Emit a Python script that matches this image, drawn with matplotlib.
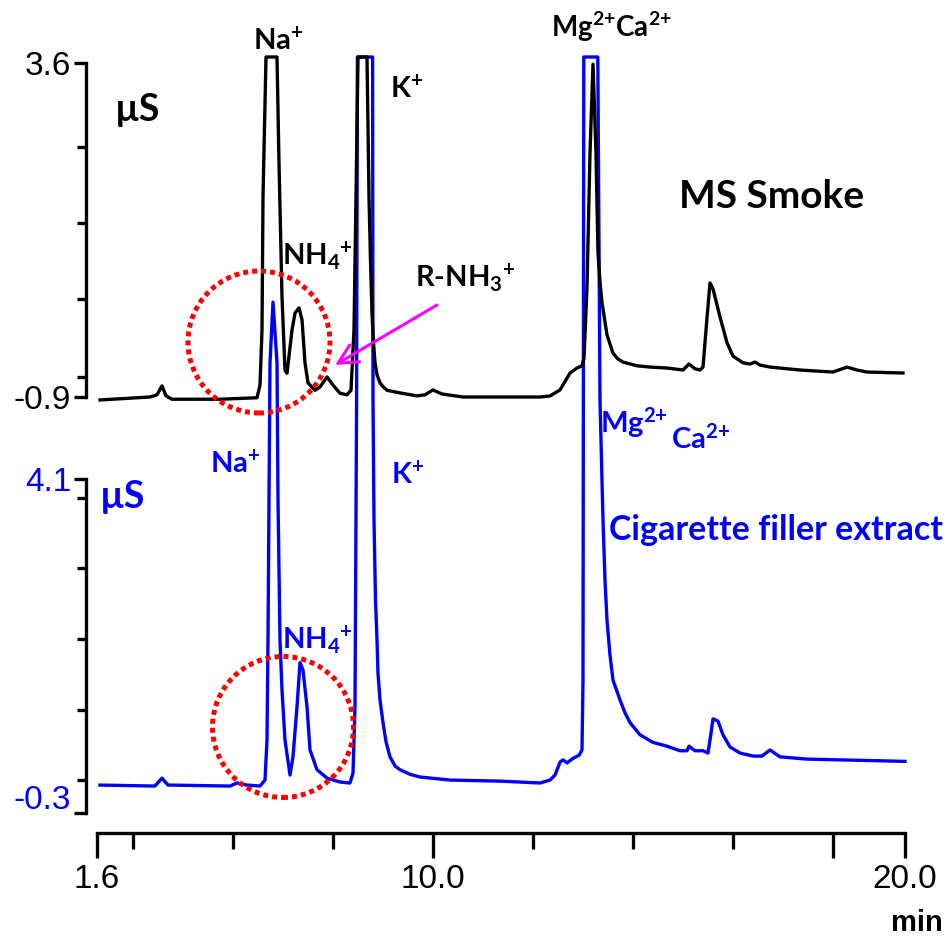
import numpy as np
import matplotlib
matplotlib.use("Agg")
import matplotlib.pyplot as plt
import matplotlib.transforms as mtransforms
from matplotlib import font_manager
from matplotlib.patches import Ellipse, FancyArrowPatch

plt.rcParams["font.family"] = ["Liberation Sans", "DejaVu Sans"]
plt.rcParams["mathtext.default"] = "regular"

# ---- chromatograms: retention time (min) vs conductivity (µS) ----
# mainstream smoke (upper trace)
smoke_time = [
    1.675, 2.925, 3.1, 3.225, 3.325, 3.475, 4.675, 5.6, 5.675, 5.725, 5.75,
    5.825, 5.96, 6.1, 6.15, 6.225, 6.3, 6.35, 6.475, 6.55, 6.65, 6.725, 6.8,
    6.875, 7.05, 7.175, 7.35, 7.5, 7.675, 7.85, 7.95, 8.025, 8.075, 8.125,
    8.24, 8.35, 8.4, 8.4375, 8.475, 8.5125, 8.55, 8.6, 8.675, 8.75, 8.85,
    9.175, 9.6, 9.8, 10.0, 10.225, 10.75, 11.425, 12.175, 12.675, 12.925,
    13.175, 13.425, 13.6, 13.725, 13.775, 13.85, 13.925, 14.0, 14.075, 14.125,
    14.175, 14.225, 14.35, 14.5, 14.625, 14.75, 15.1, 15.425, 15.85, 16.25,
    16.4, 16.55, 16.675, 16.75, 16.85, 16.925, 17.0, 17.175, 17.35, 17.5,
    17.75, 17.925, 18.05, 18.175, 18.425, 19.175, 20.0, 20.35, 20.6, 20.85,
    21.75,
]
smoke_uS = [
    -0.94, -0.90, -0.87, -0.75, -0.885, -0.93, -0.93, -0.91, -0.74, 0.00, 1.79,
    3.9, 5.0, 3.9, 2.25, 0.45, -0.54, -0.58, 0.00, 0.23, 0.30, 0.14, -0.44,
    -0.71, -0.81, -0.765, -0.63, -0.74, -0.85, -0.87, -0.81, 0.00, 1.79, 3.9,
    5.5, 3.9, 1.79, 0.94, 0.23, -0.17, -0.44, -0.60, -0.71, -0.76, -0.81,
    -0.845, -0.885, -0.87, -0.805, -0.86, -0.90, -0.90, -0.90, -0.90, -0.886,
    -0.805, -0.577, -0.51, -0.48, -0.375, 0.58, 2.38, 3.58, 2.38, 1.04,
    0.65, 0.37, -0.065, -0.31, -0.39, -0.43, -0.48, -0.497, -0.51, -0.537,
    -0.456, -0.52, -0.537, -0.497, 0.164, 0.635, 0.555, 0.178, -0.17, -0.35,
    -0.44, -0.456, -0.43, -0.47, -0.497, -0.537, -0.564, -0.497, -0.537, -0.564,
    -0.577,
]

# cigarette filler extract (lower trace)
filler_time = [
    1.675, 3.05, 3.225, 3.375, 4.925, 5.1, 5.35, 5.675, 5.8, 5.85, 5.875, 5.9,
    5.925, 6.0, 6.1, 6.125, 6.175, 6.225, 6.3, 6.425, 6.5, 6.6, 6.675, 6.75,
    6.85, 6.925, 7.1, 7.35, 7.675, 7.925, 8.0, 8.05, 8.09, 8.11, 8.3, 8.49,
    8.5, 8.525, 8.5625, 8.6, 8.625, 8.675, 8.75, 8.825, 8.925, 9.05, 9.175,
    9.425, 9.675, 10.425, 11.675, 12.675, 12.925, 13.05, 13.175, 13.25, 13.35,
    13.5, 13.65, 13.725, 13.75, 13.77, 13.95, 14.12, 14.175, 14.225, 14.25,
    14.3, 14.35, 14.425, 14.5, 14.675, 14.8, 14.925, 15.175, 15.5, 15.85,
    16.175, 16.35, 16.4, 16.55, 16.75, 16.875, 16.95, 17.0, 17.125, 17.25,
    17.425, 17.675, 18.0, 18.225, 18.425, 18.675, 19.35, 20.175, 21.8,
]
filler_uS = [
    0.068, 0.055, 0.16, 0.068, 0.055, 0.095, 0.068, 0.055, 0.134, 0.66, 1.98,
    3.83, 5.63, 6.43, 5.63, 3.83, 1.98, 1.32, 0.66, 0.20, 0.44, 1.10, 1.68,
    1.58, 1.10, 0.53, 0.27, 0.16, 0.108, 0.095, 0.227, 1.10, 5.14, 10.5, 14.0,
    10.5, 5.14, 3.56, 2.50, 1.98, 1.54, 1.19, 0.89, 0.64, 0.44, 0.32, 0.27,
    0.21, 0.174, 0.134, 0.12, 0.095, 0.134, 0.20, 0.37, 0.40, 0.36,
    0.42, 0.46, 0.53, 1.45, 10.5, 18.0, 10.5, 5.14, 4.08, 3.56,
    2.77, 2.24, 1.78, 1.45, 1.19, 1.02, 0.89, 0.73, 0.63, 0.58,
    0.52, 0.52, 0.58, 0.52, 0.52, 0.49, 0.75, 0.94, 0.91, 0.73,
    0.57, 0.49, 0.45, 0.45, 0.53, 0.44, 0.41, 0.40, 0.38,
]

# ---- axis ranges and ticks ----
time_range = (1.6, 21.8)
time_major = [1.6, 10.0, 20.0, 21.8]
time_major_labels = ["1.6", "10.0", "", "20.0"]
time_minor = [2.5, 5.0, 7.5, 12.5, 15.0, 17.5]

smoke_range = (-0.9, 3.6)
smoke_labels = ["-0.9", "3.6"]
smoke_minor = [-0.626, 0.416, 1.447, 2.469]

filler_range = (-0.3, 4.1)
filler_labels = ["-0.3", "4.1"]
filler_minor = [0.134, 1.057, 1.988, 2.923, 3.846]

BLUE = "#0000ff"
BLACK = "#000000"
RED = "#ff0000"
MAGENTA = "#ff00ff"
LW = 2.4

# ---- figure layout (pixel geometry) ----
W, H = 947, 944
fig = plt.figure(figsize=(W / 100, H / 100), dpi=100)

X0, X1 = 97, 905
Y_TOP, Y_BOT = 57, 833
rect = [X0 / W, 1 - Y_BOT / H, (X1 - X0) / W, (Y_BOT - Y_TOP) / H]


def ylimits(rng, py_lo, py_hi):
    """y-limits so that rng[0] sits at pixel row py_lo and rng[1] at py_hi."""
    lo, hi = rng
    per_px = (hi - lo) / (py_lo - py_hi)
    return lo - (Y_BOT - py_lo) * per_px, hi + (py_hi - Y_TOP) * per_px


def fpos(x, y):
    return x / W, 1 - y / H


ax_f = fig.add_axes(rect)
ax_s = fig.add_axes(rect)
ax_s.patch.set_visible(False)

ylim_f = ylimits(filler_range, 813, 479)
ylim_s = ylimits(smoke_range, 397, 62.7)
ax_f.set_ylim(*ylim_f)
ax_s.set_ylim(*ylim_s)
ax_f.set_xlim(*time_range)
ax_s.set_xlim(*time_range)

# over-range signals are shown flat at the top of the display range
ax_f.plot(filler_time, np.minimum(filler_uS, ylim_f[1]), color=BLUE, lw=LW,
          clip_on=False)
ax_s.plot(smoke_time, np.minimum(smoke_uS, ylim_s[1]), color=BLACK, lw=LW,
          clip_on=False)

for ax in (ax_f, ax_s):
    for side in ("top", "right"):
        ax.spines[side].set_visible(False)
    ax.spines["left"].set_position(("outward", 11 * 0.72))
    ax.spines["left"].set_linewidth(LW)
ax_s.spines["bottom"].set_visible(False)
ax_s.tick_params(axis="x", which="both", bottom=False, labelbottom=False)
ax_f.spines["bottom"].set_linewidth(LW)
ax_f.spines["left"].set_bounds(*filler_range)
ax_s.spines["left"].set_bounds(*smoke_range)

# time axis
ax_f.set_xticks(time_major, time_major_labels)
ax_f.set_xticks(time_minor, minor=True)
ax_f.tick_params(axis="x", which="major", length=25 * 0.72, width=LW,
                 labelsize=24, pad=4)
ax_f.tick_params(axis="x", which="minor", length=16 * 0.72, width=LW)

# conductivity axes
ax_s.set_yticks(list(smoke_range), smoke_labels)
ax_s.set_yticks(smoke_minor, minor=True)
ax_f.set_yticks(list(filler_range), filler_labels)
ax_f.set_yticks(filler_minor, minor=True)
for ax, col in ((ax_s, BLACK), (ax_f, BLUE)):
    ax.tick_params(axis="y", which="major", length=12 * 0.72, width=LW,
                   labelsize=24, pad=2, labelcolor=col)
    ax.tick_params(axis="y", which="minor", length=9 * 0.72, width=LW)

lift = mtransforms.ScaledTranslation(0, 16 / 100, fig.dpi_scale_trans)
low_label = ax_f.get_yticklabels()[0]
low_label.set_transform(low_label.get_transform() + lift)

# unit of the time axis, in a condensed face when one is installed
installed = {f.name for f in font_manager.fontManager.ttflist}
if "Liberation Sans Narrow" in installed:
    unit_font, unit_size = "Liberation Sans Narrow", 23
else:
    unit_font, unit_size = "Liberation Sans", 21
fig.text(*fpos(943, 931), "min", fontsize=unit_size, fontweight="bold",
         family=[unit_font, "DejaVu Sans"], ha="right", va="baseline")

# ---- annotations ----
ANN_FONT = ["Lato", "DejaVu Sans"]


def label(x, y, s, color, size=21, ha="center"):
    fig.text(*fpos(x, y), s, color=color, fontsize=size, fontweight="bold",
             family=ANN_FONT, ha=ha, va="baseline")


label(115, 121, "µS", BLACK, 27, ha="left")
label(278, 50, "Na$^{+}$", BLACK)
label(407, 98, "K$^{+}$", BLACK)
label(317, 265, "NH$_{4}$$^{+}$", BLACK)
label(465, 287, "R-NH$_{3}$$^{+}$", BLACK)
label(611, 37, "Mg$^{2{+}}$Ca$^{2{+}}$", BLACK, 20)
label(772, 208, "MS Smoke", BLACK, 28)

label(100, 508, "µS", BLUE, 27, ha="left")
label(235, 473, "Na$^{+}$", BLUE)
label(408, 484, "K$^{+}$", BLUE)
label(317, 649, "NH$_{4}$$^{+}$", BLUE)
label(634, 433, "Mg$^{2{+}}$", BLUE)
label(701, 449, "Ca$^{2{+}}$", BLUE)
label(776, 540, "Cigarette filler extract", BLUE, 24.5)

# dotted circles around the ammonium region
for cx, cy, r in [(259, 342, 71), (283, 727, 70.5)]:
    fig.add_artist(Ellipse(fpos(cx, cy), 2 * r / W, 2 * r / H,
                           transform=fig.transFigure, fill=False,
                           ec=RED, lw=3.6, ls=(0, (1, 0.8)), zorder=5))

# arrow pointing at the amine peak
fig.add_artist(FancyArrowPatch(fpos(437, 305), fpos(335, 365),
                               transform=fig.transFigure,
                               arrowstyle="->,head_length=0.7,head_width=0.35",
                               mutation_scale=20, color=MAGENTA, lw=2.2,
                               shrinkA=0, shrinkB=0, zorder=6))

fig.savefig("out.png", dpi=100)
